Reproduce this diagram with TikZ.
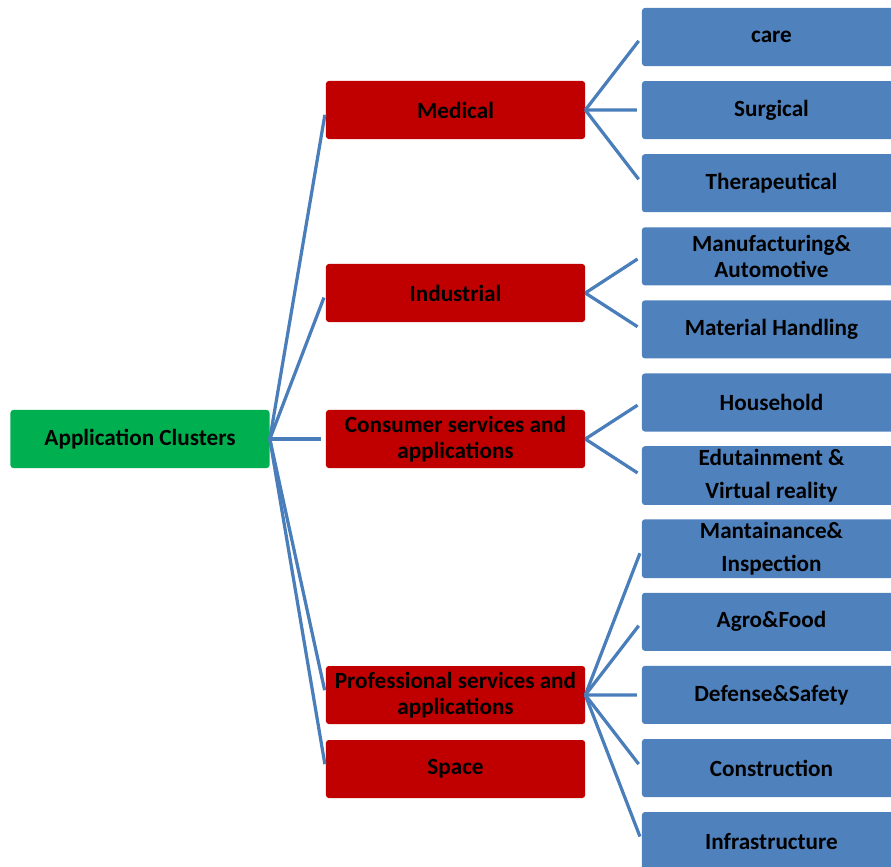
\documentclass[tikz,border=0pt]{standalone}
\usepackage{fontspec}
\setmainfont{Carlito}
\definecolor{rootgreen}{HTML}{00B050}
\definecolor{areared}{HTML}{C00000}
\definecolor{fieldblue}{HTML}{4F81BD}
\definecolor{linkblue}{HTML}{4A7EBB}
\tikzset{
  box/.style={rounded corners=2pt, minimum width=6.475cm, minimum height=1.45cm,
    align=center, inner sep=2pt, text=black,
    font=\fontsize{16.5}{18.6}\selectfont\bfseries},
  rootbox/.style={box, fill=rootgreen},
  areabox/.style={box, fill=areared},
  fieldbox/.style={box, fill=fieldblue},
  link/.style={linkblue, line width=2.3pt, shorten >=3.5pt}
}

\begin{document}
\begin{tikzpicture}[x=0.025cm, y=-0.025cm]
			\useasboundingbox (0,0) rectangle (891,866);
			\clip (0,0) rectangle (891,866);
			\node[rootbox] (root) at (140,439) {Application Clusters};
			\node[areabox] (med) at (455.5,110) {Medical};
			\node[areabox] (ind) at (455.5,293) {Industrial};
			\node[areabox] (con) at (455.5,439) {Consumer services and\\applications};
			\node[areabox] (pro) at (455.5,695) {Professional services and\\applications};
			\node[areabox] (spa) at (455.5,769) {Space};
			\foreach[count=\i] \t in {care, Surgical, Therapeutical, {Manufacturing\&\\Automotive},
				Material Handling, Household, {Edutainment \&\\[5pt]Virtual reality},
				{Mantainance\&\\[5pt]Inspection}, Agro\&Food, Defense\&Safety, Construction, Infrastructure}{
				\node[fieldbox] (f\i) at (771.5,{37+73.1*(\i-1)}) {\t};
			}
			% connectors
			\foreach \a in {med, ind, con, pro, spa}{
				\draw[link] (root.east) -- (\a.west);
			}
			\foreach \i in {1,2,3}{\draw[link] (med.east) -- (f\i.west);}
			\foreach \i in {4,5}{\draw[link] (ind.east) -- (f\i.west);}
			\foreach \i in {6,7}{\draw[link] (con.east) -- (f\i.west);}
			\foreach \i in {8,...,12}{\draw[link] (pro.east) -- (f\i.west);}
		\end{tikzpicture}
\end{document}
